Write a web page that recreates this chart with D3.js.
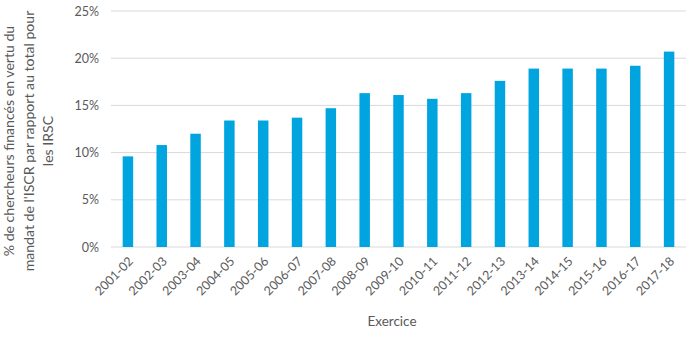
<!DOCTYPE html>
<html><head><meta charset="utf-8">
<script src="https://cdn.jsdelivr.net/npm/d3@7"></script>
<style>body{margin:0;background:#fff}svg{display:block}</style>
</head><body>
<svg id="c" width="700" height="340"></svg>
<script>
const categories = ["2001-02","2002-03","2003-04","2004-05","2005-06","2006-07","2007-08","2008-09","2009-10","2010-11","2011-12","2012-13","2013-14","2014-15","2015-16","2016-17","2017-18"];
const values = [9.6,10.8,12.0,13.4,13.4,13.7,14.7,16.3,16.1,15.7,16.3,17.6,18.9,18.9,18.9,19.2,20.7];
const yTicks = [0,5,10,15,20,25];
const yTitle = ["% de chercheurs financés en vertu du","mandat de l'ISCR par rapport au total pour","les IRSC"];
const xTitle = "Exercice";

const svg = d3.select("#c");
const font = "Lato, 'Open Sans', sans-serif";
const textCol = "#595959";
const m = {left:111, right:686, top:11, bottom:247};

const x = d3.scaleBand().domain(categories).range([m.left, m.right]).paddingInner(0.69).paddingOuter(0.345);
const y = d3.scaleLinear().domain([0,25]).range([m.bottom, m.top]);

// gridlines
svg.append("g").selectAll("line").data(yTicks).join("line")
  .attr("x1", m.left).attr("x2", m.right)
  .attr("y1", d=>y(d)).attr("y2", d=>y(d))
  .attr("stroke", "#d9d9d9").attr("stroke-width", 1);

// y tick labels
const yAxis = d3.axisLeft(y).tickValues(yTicks).tickSize(0).tickPadding(12).tickFormat(d=>d+"%");
const ya = svg.append("g").attr("transform", `translate(${m.left},0)`).call(yAxis);
ya.select(".domain").remove();
ya.selectAll("text").attr("fill", textCol).style("font-family", font).style("font-size","12.5px");

// bars
svg.append("g").selectAll("rect").data(values).join("rect")
  .attr("x", (d,i)=>x(categories[i]))
  .attr("width", x.bandwidth())
  .attr("y", d=>y(d))
  .attr("height", d=>y(0)-y(d))
  .attr("fill", "#00a5e0");

// x axis labels
const xAxis = d3.axisBottom(x).tickSize(0).tickPadding(0);
const xa = svg.append("g").attr("transform", `translate(0,${m.bottom})`).call(xAxis);
xa.select(".domain").remove();
xa.selectAll("text")
  .attr("fill", textCol).style("font-family", font).style("font-size","12.5px")
  .attr("text-anchor","end")
  .attr("dy", "0.35em")
  .attr("transform", "translate(3,12) rotate(-45)");

// axis titles
svg.append("text").attr("x", 392).attr("y", 326)
  .attr("text-anchor","middle").attr("fill", textCol)
  .style("font-family", font).style("font-size","13.5px").text(xTitle);

const yt = svg.append("text").attr("transform","translate(14,141) rotate(-90)")
  .attr("text-anchor","middle").attr("fill", textCol)
  .style("font-family", font).style("font-size","14.1px");
yTitle.forEach((t,i)=>{
  yt.append("tspan").attr("x",0).attr("y", i*19.5).text(t);
});
</script>
</body></html>
